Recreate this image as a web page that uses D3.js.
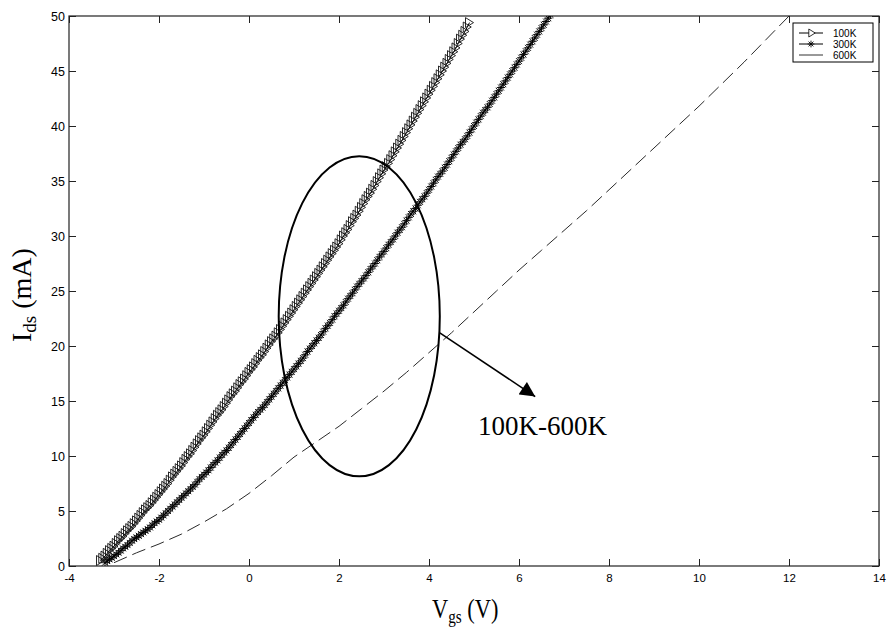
<!DOCTYPE html>
<html>
<head>
<meta charset="utf-8">
<script src="https://cdn.jsdelivr.net/npm/d3@7"></script>
<style>
  body { margin: 0; background: #fff; }
  svg { display: block; }
</style>
</head>
<body>
<svg id="chart" width="888" height="630"></svg>
<script>
// Transfer curves Ids(Vgs) at three radiation fluences

// Gate voltage sweep (V) shared by the 100K and 300K measurements
const vgs = [
  -3.30,-3.25,-3.20,-3.15,-3.10,-3.05,-3.00,-2.95,-2.90,-2.85,-2.80,-2.75,-2.70,-2.65,-2.60,-2.55,-2.50,-2.45,-2.40,-2.35,
  -2.30,-2.25,-2.20,-2.15,-2.10,-2.05,-2.00,-1.95,-1.90,-1.85,-1.80,-1.75,-1.70,-1.65,-1.60,-1.55,-1.50,-1.45,-1.40,-1.35,
  -1.30,-1.25,-1.20,-1.15,-1.10,-1.05,-1.00,-0.95,-0.90,-0.85,-0.80,-0.75,-0.70,-0.65,-0.60,-0.55,-0.50,-0.45,-0.40,-0.35,
  -0.30,-0.25,-0.20,-0.15,-0.10,-0.05,0.00,0.05,0.10,0.15,0.20,0.25,0.30,0.35,0.40,0.45,0.50,0.55,0.60,0.65,
  0.70,0.75,0.80,0.85,0.90,0.95,1.00,1.05,1.10,1.15,1.20,1.25,1.30,1.35,1.40,1.45,1.50,1.55,1.60,1.65,
  1.70,1.75,1.80,1.85,1.90,1.95,2.00,2.05,2.10,2.15,2.20,2.25,2.30,2.35,2.40,2.45,2.50,2.55,2.60,2.65,
  2.70,2.75,2.80,2.85,2.90,2.95,3.00,3.05,3.10,3.15,3.20,3.25,3.30,3.35,3.40,3.45,3.50,3.55,3.60,3.65,
  3.70,3.75,3.80,3.85,3.90,3.95,4.00,4.05,4.10,4.15,4.20,4.25,4.30,4.35,4.40,4.45,4.50,4.55,4.60,4.65,
  4.70,4.75,4.80,4.85,4.90,4.95,5.00,5.05,5.10,5.15,5.20,5.25,5.30,5.35,5.40,5.45,5.50,5.55,5.60,5.65,
  5.70,5.75,5.80,5.85,5.90,5.95,6.00,6.05,6.10,6.15,6.20,6.25,6.30,6.35,6.40,6.45,6.50,6.55,6.60,6.65,
  6.70
];

// 100K drain current (mA); null where not measured
const ids100 = [
  0.5,0.7,0.9,1.15,1.4,1.6,1.8,2.05,2.3,2.5,2.7,2.95,3.2,3.4,3.6,3.85,4.1,4.35,4.6,4.85,
  5.1,5.3,5.5,5.75,6.0,6.25,6.5,6.75,7.0,7.25,7.5,7.8,8.1,8.35,8.6,8.85,9.1,9.4,9.7,9.95,
  10.2,10.5,10.8,11.1,11.4,11.65,11.9,12.2,12.5,12.8,13.1,13.4,13.7,13.95,14.2,14.5,14.8,15.1,15.4,15.65,
  15.9,16.2,16.5,16.75,17.0,17.3,17.6,17.85,18.1,18.4,18.7,18.95,19.2,19.5,19.8,20.1,20.4,20.65,20.9,21.2,
  21.5,21.8,22.1,22.4,22.7,23.0,23.3,23.6,23.9,24.2,24.5,24.8,25.1,25.4,25.7,26.0,26.3,26.6,26.9,27.2,
  27.5,27.8,28.1,28.4,28.7,29.0,29.3,29.65,30.0,30.3,30.6,30.95,31.3,31.6,31.9,32.25,32.6,32.95,33.3,33.6,
  33.9,34.25,34.6,34.95,35.3,35.65,36.0,36.3,36.6,36.95,37.3,37.65,38.0,38.35,38.7,39.05,39.4,39.75,40.1,40.45,
  40.8,41.15,41.5,41.85,42.2,42.55,42.9,43.25,43.6,43.95,44.3,44.65,45.0,45.35,45.7,46.05,46.4,46.75,47.1,47.5,
  47.9,48.25,48.6,49.0,49.4,null,null,null,null,null,null,null,null,null,null,null,null,null,null,null,
  null,null,null,null,null,null,null,null,null,null,null,null,null,null,null,null,null,null,null,null,
  null
];

// 300K drain current (mA)
const ids300 = [
  null,null,0.3,0.45,0.6,0.75,0.9,1.05,1.2,1.4,1.6,1.75,1.9,2.1,2.3,2.45,2.6,2.75,2.9,3.05,
  3.2,3.35,3.5,3.7,3.9,4.05,4.2,4.4,4.6,4.8,5.0,5.2,5.4,5.6,5.8,6.0,6.2,6.4,6.6,6.8,
  7.0,7.2,7.4,7.65,7.9,8.1,8.3,8.5,8.7,8.95,9.2,9.4,9.6,9.85,10.1,10.3,10.5,10.75,11.0,11.25,
  11.5,11.75,12.0,12.25,12.5,12.75,13.0,13.25,13.5,13.75,14.0,14.2,14.4,14.65,14.9,15.15,15.4,15.65,15.9,16.15,
  16.4,16.65,16.9,17.15,17.4,17.65,17.9,18.15,18.4,18.65,18.9,19.2,19.5,19.75,20.0,20.25,20.5,20.75,21.0,21.3,
  21.6,21.85,22.1,22.4,22.7,22.95,23.2,23.45,23.7,24.0,24.3,24.55,24.8,25.1,25.4,25.65,25.9,26.15,26.4,26.7,
  27.0,27.25,27.5,27.8,28.1,28.35,28.6,28.9,29.2,29.45,29.7,30.0,30.3,30.55,30.8,31.1,31.4,31.7,32.0,32.25,
  32.5,32.8,33.1,33.35,33.6,33.9,34.2,34.5,34.8,35.1,35.4,35.65,35.9,36.2,36.5,36.8,37.1,37.4,37.7,38.0,
  38.3,38.55,38.8,39.1,39.4,39.7,40.0,40.3,40.6,40.9,41.2,41.45,41.7,42.0,42.3,42.6,42.9,43.2,43.5,43.8,
  44.1,44.4,44.7,45.0,45.3,45.6,45.9,46.2,46.5,46.8,47.1,47.4,47.7,48.0,48.3,48.6,48.9,49.2,49.5,49.8,
  50.1
];

// 600K gate sweep (V) and drain current (mA)
const vgs600 = [-3.0,-2.5,-2.0,-1.5,-1.0,-0.5,0.0,0.5,1.0,1.5,2.0,2.5,3.0,3.5,4.0,4.5,5.0,5.5,6.0,6.5,7.0,7.5,8.0,8.5,9.0,9.5,10.0,10.5,11.0,11.5,12.0];
const ids600 = [0.3,1.2,2.0,2.9,4.0,5.2,6.6,8.2,9.9,11.3,12.7,14.3,15.9,17.6,19.4,21.2,23.1,25.0,26.9,28.7,30.5,32.3,34.2,36.1,38.0,39.9,41.8,43.8,45.8,47.9,50.0];

const seriesNames = ["100K", "300K", "600K"];
const xTickValues = [-4, -2, 0, 2, 4, 6, 8, 10, 12, 14];
const yTickValues = [0, 5, 10, 15, 20, 25, 30, 35, 40, 45, 50];

// Annotation: ellipse around the curves, arrow and its label (data units)
const ellipseCenter = [2.45, 22.7];
const ellipseRadii = [1.79, 14.55];
const arrowFrom = [4.24, 21.2];
const arrowTo = [6.36, 15.4];
const noteAnchor = [5.09, 11.9];
const noteText = "100K-600K";

const svg = d3.select("#chart");
const plot = { left: 69, right: 879, top: 16, bottom: 566 };

const x = d3.scaleLinear().domain([-4, 14]).range([plot.left, plot.right]);
const y = d3.scaleLinear().domain([0, 50]).range([plot.bottom, plot.top]);

const sans = "'Liberation Sans', Arial, Helvetica, sans-serif";
const serif = "'Liberation Serif', 'Times New Roman', Times, serif";
const plainNumber = d => String(d);

const defs = svg.append("defs");
defs.append("clipPath").attr("id", "plotClip")
  .append("rect")
  .attr("x", plot.left).attr("y", plot.top)
  .attr("width", plot.right - plot.left).attr("height", plot.bottom - plot.top);

// Axes with inward ticks on all four sides
const axisColor = "#222";
function styleAxis(g) {
  g.select(".domain").remove();
  g.selectAll(".tick line").attr("stroke", axisColor).attr("stroke-width", 1);
  g.selectAll(".tick text").attr("fill", "#000");
}

svg.append("g")
  .attr("transform", `translate(0,${plot.bottom})`)
  .call(d3.axisBottom(x).tickValues(xTickValues).tickSizeInner(-7).tickSizeOuter(0).tickFormat(plainNumber))
  .call(styleAxis)
  .call(g => g.selectAll(".tick text").attr("font-family", sans).attr("font-size", 11.5).attr("dy", "0.75em").attr("y", 7));

svg.append("g")
  .attr("transform", `translate(0,${plot.top})`)
  .call(d3.axisTop(x).tickValues(xTickValues).tickSizeInner(-7).tickSizeOuter(0).tickFormat(""))
  .call(styleAxis);

svg.append("g")
  .attr("transform", `translate(${plot.left},0)`)
  .call(d3.axisLeft(y).tickValues(yTickValues).tickSizeInner(-7).tickSizeOuter(0).tickFormat(plainNumber))
  .call(styleAxis)
  .call(g => g.selectAll(".tick text").attr("font-family", sans).attr("font-size", 12.5).attr("x", -4));

svg.append("g")
  .attr("transform", `translate(${plot.right},0)`)
  .call(d3.axisRight(y).tickValues(yTickValues).tickSizeInner(-7).tickSizeOuter(0).tickFormat(""))
  .call(styleAxis);

svg.append("rect")
  .attr("x", plot.left).attr("y", plot.top)
  .attr("width", plot.right - plot.left).attr("height", plot.bottom - plot.top)
  .attr("fill", "none").attr("stroke", axisColor).attr("stroke-width", 1.2);

// Data points
const pts100 = vgs.map((v, i) => [v, ids100[i]]).filter(d => d[1] != null);
const pts300 = vgs.map((v, i) => [v, ids300[i]]).filter(d => d[1] != null);
const pts600 = vgs600.map((v, i) => [v, ids600[i]]);

const line = d3.line().x(d => x(d[0])).y(d => y(d[1]));
const layer = svg.append("g").attr("clip-path", "url(#plotClip)");

// marker shapes
const triRight = "M-4,-5L4,0L-4,5Z";
const asterisk = "M-4.2,0H4.2M0,-4.2V4.2M-3,-3L3,3M-3,3L3,-3";

// 600K: dashed line, no markers
layer.append("path")
  .attr("d", line(pts600))
  .attr("fill", "none").attr("stroke", "#2a2a2a").attr("stroke-width", 1)
  .attr("stroke-dasharray", "14,6");

// 300K: line with asterisks
layer.append("path")
  .attr("d", line(pts300))
  .attr("fill", "none").attr("stroke", "#000").attr("stroke-width", 1);
layer.append("g").selectAll("path").data(pts300).join("path")
  .attr("transform", d => `translate(${x(d[0])},${y(d[1])})`)
  .attr("d", asterisk)
  .attr("fill", "none").attr("stroke", "#000").attr("stroke-width", 0.9);

// 100K: line with right-pointing triangles
layer.append("path")
  .attr("d", line(pts100))
  .attr("fill", "none").attr("stroke", "#000").attr("stroke-width", 1);
layer.append("g").selectAll("path").data(pts100).join("path")
  .attr("transform", d => `translate(${x(d[0])},${y(d[1])})`)
  .attr("d", triRight)
  .attr("fill", "none").attr("stroke", "#111").attr("stroke-width", 0.9);

// Ellipse grouping the curves
svg.append("ellipse")
  .attr("cx", x(ellipseCenter[0])).attr("cy", y(ellipseCenter[1]))
  .attr("rx", x(ellipseCenter[0] + ellipseRadii[0]) - x(ellipseCenter[0]))
  .attr("ry", y(ellipseCenter[1]) - y(ellipseCenter[1] + ellipseRadii[1]))
  .attr("fill", "none").attr("stroke", "#000").attr("stroke-width", 2);

// Arrow
defs.append("marker")
  .attr("id", "arrowHead")
  .attr("viewBox", "0 0 10 10")
  .attr("refX", 10).attr("refY", 5)
  .attr("markerWidth", 16).attr("markerHeight", 15)
  .attr("markerUnits", "userSpaceOnUse")
  .attr("orient", "auto")
  .append("path").attr("d", "M0,0L10,5L0,10Z").attr("fill", "#000");

svg.append("line")
  .attr("x1", x(arrowFrom[0])).attr("y1", y(arrowFrom[1]))
  .attr("x2", x(arrowTo[0])).attr("y2", y(arrowTo[1]))
  .attr("stroke", "#000").attr("stroke-width", 1.6)
  .attr("marker-end", "url(#arrowHead)");

svg.append("text")
  .attr("x", x(noteAnchor[0])).attr("y", y(noteAnchor[1]))
  .attr("font-family", serif).attr("font-size", 27)
  .attr("fill", "#000")
  .text(noteText);

// Legend
const legend = svg.append("g");
legend.append("rect")
  .attr("x", 793).attr("y", 23).attr("width", 80).attr("height", 39)
  .attr("fill", "#fff").attr("stroke", "#000").attr("stroke-width", 1);

const legendRows = legend.selectAll("g.row").data(seriesNames).join("g")
  .attr("class", "row")
  .attr("transform", (d, i) => `translate(0,${33 + i * 11})`);

legendRows.append("line")
  .attr("x1", 799).attr("x2", 823).attr("y1", 0).attr("y2", 0)
  .attr("stroke", (d, i) => i === 2 ? "#333" : "#000").attr("stroke-width", 1);

legendRows.filter((d, i) => i === 0).append("path")
  .attr("transform", "translate(812,0) scale(0.8)").attr("d", triRight)
  .attr("fill", "#fff").attr("stroke", "#000").attr("stroke-width", 1);
legendRows.filter((d, i) => i === 1).append("path")
  .attr("transform", "translate(811,0) scale(0.8)").attr("d", asterisk)
  .attr("fill", "none").attr("stroke", "#000").attr("stroke-width", 1.1);

legendRows.append("text")
  .attr("x", 833).attr("y", 0).attr("dy", "0.36em")
  .attr("font-family", sans).attr("font-size", 10).attr("fill", "#000")
  .text(d => d);

// Axis titles
const xTitle = svg.append("text")
  .attr("transform", "translate(432,618) scale(0.8,1)")
  .attr("font-family", serif).attr("font-size", 28).attr("fill", "#000");
xTitle.append("tspan").text("V");
xTitle.append("tspan").attr("font-size", 19).attr("dy", 5).text("gs");
xTitle.append("tspan").attr("dy", -5).text(" (V)");

const yTitle = svg.append("text")
  .attr("transform", "translate(31,342) rotate(-90)")
  .attr("font-family", serif).attr("font-size", 28).attr("fill", "#000");
yTitle.append("tspan").text("I");
yTitle.append("tspan").attr("font-size", 19).attr("dy", 5).text("ds");
yTitle.append("tspan").attr("dy", -5).text(" (mA)");
</script>
</body>
</html>
